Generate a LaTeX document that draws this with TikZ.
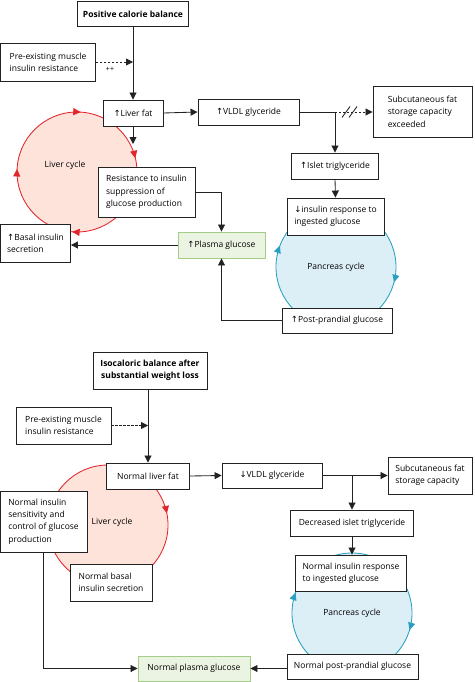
\documentclass[tikz,border=0pt]{standalone}
\usepackage{fontspec}
\setmainfont{Open Sans}
\newfontfamily\arrf{DejaVu Sans}
\newcommand\uar{{\arrf\char"2191}}
\newcommand\dar{{\arrf\char"2193}}
\usetikzlibrary{arrows.meta,decorations.markings}
\definecolor{cred}{HTML}{E2262B}
\definecolor{cpink}{HTML}{FDE3DA}
\definecolor{cteal}{HTML}{2A9FBF}
\definecolor{cblue}{HTML}{DCEEF6}
\definecolor{cgreen}{HTML}{A3CC86}
\definecolor{cgfill}{HTML}{EBF4E3}
\definecolor{cline}{HTML}{222222}
\begin{document}
\begin{tikzpicture}[x=1pt,y=-1pt,
  font=\fontsize{8.5}{12.3}\selectfont,
  bx/.style={draw=cline, fill=white, line width=0.9pt, inner sep=0pt, align=left},
  gbx/.style={bx, draw=cgreen, fill=cgfill},
  arr/.style={draw=cline, line width=0.85pt, -{Triangle[length=7pt,width=7pt]}},
  ln/.style={draw=cline, line width=0.85pt},
  dsh/.style={dash pattern=on 2.2pt off 1.8pt},
  lcyc/.style={draw=cred, fill=cpink, line width=0.85pt},
  pcyc/.style={draw=cteal, fill=cblue, line width=0.85pt},
  cyclabel/.style={inner sep=0pt}
]
\useasboundingbox (0,0) rectangle (474,682);

% ---------- cycles (top) ----------
\path[lcyc, postaction={decorate}, decoration={markings,
  mark=at position 0.010 with {\arrow[cred]{Triangle[length=7.5pt,width=7pt]}},
  mark=at position 0.213 with {\arrow[cred]{Triangle[length=7.5pt,width=7pt]}},
  mark=at position 0.513 with {\arrow[cred]{Triangle[length=7.5pt,width=7pt]}},
  mark=at position 0.758 with {\arrow[cred]{Triangle[length=7.5pt,width=7pt]}}}]
  (77,172) ++(90:60pt) arc[start angle=90,end angle=-270,radius=60pt];
\node[cyclabel] (lc1) at (65,165) {Liver cycle};

\path[pcyc, postaction={decorate}, decoration={markings,
  mark=at position 0.291 with {\arrow[cteal]{Triangle[length=7.5pt,width=7pt]}},
  mark=at position 0.808 with {\arrow[cteal]{Triangle[length=7.5pt,width=7pt]}}}]
  (336,267) ++(90:60pt) arc[start angle=90,end angle=-270,radius=60pt];
\node[cyclabel] (pc1) at (336,267) {Pancreas cycle};

% ---------- cycles (bottom) ----------
\path[lcyc, postaction={decorate}, decoration={markings,
  mark=at position 0.219 with {\arrow[cred]{Triangle[length=7.5pt,width=7pt]}}}]
  (108,525) ++(90:60pt) arc[start angle=90,end angle=-270,radius=60pt];
\node[cyclabel] (lc2) at (112,522) {Liver cycle};

\path[pcyc, postaction={decorate}, decoration={markings,
  mark=at position 0.296 with {\arrow[cteal]{Triangle[length=7.5pt,width=7pt]}},
  mark=at position 0.805 with {\arrow[cteal]{Triangle[length=7.5pt,width=7pt]}}}]
  (352,613) ++(90:60pt) arc[start angle=90,end angle=-270,radius=60pt];
\node[cyclabel] (pc2) at (352,613) {Pancreas cycle};

% ---------- top boxes ----------
\node[bx, align=center, minimum width=111pt, minimum height=24.5pt, font=\fontsize{8.5}{12.3}\selectfont\bfseries] (pcb) at (133,14) {Positive calorie balance};
\node[bx, minimum width=95pt, minimum height=38pt] (pre1) at (48,62) {Pre-existing muscle\\insulin resistance};
\node[bx, minimum width=60pt, minimum height=26pt] (lf1) at (133,113) {\uar Liver fat};
\node[bx, minimum width=101pt, minimum height=26pt] (vl1) at (248.5,112) {\uar VLDL glyceride};
\node[bx, minimum width=99pt, minimum height=51pt] (sub1) at (422.5,111.5) {Subcutaneous fat\\storage capacity\\exceeded};
\node[bx, minimum width=87pt, minimum height=26pt] (isl1) at (335,166) {\uar Islet triglyceride};
\node[bx, minimum width=97pt, minimum height=37pt] (ins1) at (335.5,216.5) {\dar insulin response to\\ingested glucose};
\node[bx, minimum width=97pt, minimum height=50pt] (res1) at (146.5,192) {Resistance to insulin\\suppression of\\glucose production};
\node[bx, minimum width=70pt, minimum height=38pt] (bas1) at (35.5,243) {\uar Basal insulin\\secretion};
\node[gbx, minimum width=87pt, minimum height=26pt] (pg1) at (221.5,245) {\uar Plasma glucose};
\node[bx, minimum width=110pt, minimum height=25pt] (pp1) at (337,320.5) {\uar Post-prandial glucose};

% ---------- top connectors ----------
\coordinate (lfend) at (133,144);
\coordinate (br1) at (335,112);
\draw[arr] (pcb.south) -- (lf1.north);
\draw[arr, dsh] (pre1.east) -- (pre1.east -| lf1.north);
\node[inner sep=0pt, font=\fontsize{7}{8}\selectfont] (pp) at (110,69) {++};
\draw[arr] (lf1.south) -- (lfend);
\draw[arr] (lf1.east) -- (vl1.west);
\draw[ln] (vl1.east) -- (br1);
\draw[arr, dsh] (br1) -- (br1 -| sub1.west);
\draw[ln] (342,117.5) -- (350,106.5) (349,117.5) -- (357,106.5);
\draw[arr] (br1) -- (isl1.north);
\draw[arr] (isl1.south) -- (ins1.north);
\draw[arr] (res1.east) -| (pg1.north);
\draw[arr] (pg1.west) -- (pg1.west -| bas1.east);
\draw[arr] (pp1.west) -| (pg1.south);

% ---------- bottom boxes ----------
\node[bx, align=center, minimum width=114pt, minimum height=37pt, font=\fontsize{8.5}{12.3}\selectfont\bfseries] (iso) at (150,370.5) {Isocaloric balance after\\substantial weight loss};
\node[bx, minimum width=95pt, minimum height=37pt] (pre2) at (63.5,425.5) {Pre-existing muscle\\insulin resistance};
\node[bx, minimum width=83pt, minimum height=26pt] (lf2) at (148,476) {Normal liver fat};
\node[bx, minimum width=100pt, minimum height=25pt] (vl2) at (272,475.5) {\dar VLDL glyceride};
\node[bx, minimum width=84pt, minimum height=37pt] (sub2) at (430,475.5) {Subcutaneous fat\\storage capacity};
\node[bx, minimum width=123pt, minimum height=26pt] (dec2) at (352,523) {Decreased islet triglyceride};
\node[bx, minimum width=111pt, minimum height=36pt] (ins2) at (351,573) {Normal insulin response\\to ingested glucose};
\node[bx, minimum width=87pt, minimum height=61pt] (nis2) at (43.5,521.5) {Normal insulin\\sensitivity and\\control of glucose\\production};
\node[bx, minimum width=82pt, minimum height=37pt] (bas2) at (111,582.5) {Normal basal\\insulin secretion};
\node[gbx, minimum width=112pt, minimum height=25pt] (pg2) at (194,668.5) {Normal plasma glucose};
\node[bx, minimum width=131pt, minimum height=25pt] (pp2) at (352.5,666.5) {Normal post-prandial glucose};

% ---------- bottom connectors ----------
\coordinate (br2) at (352,475.5);
\draw[arr] (iso.south -| lf2.north) -- (lf2.north);
\draw[arr, dsh] (pre2.east) -- (pre2.east -| lf2.north);
\draw[arr] (lf2.east) -- (vl2.west);
\draw[arr] (vl2.east) -- (sub2.west);
\draw[arr] (br2) -- (dec2.north);
\draw[arr] (dec2.south) -- (dec2.south |- ins2.north);
\draw[arr] (nis2.south) |- (pg2.west);
\draw[arr] (pp2.west |- pg2.east) -- (pg2.east);
\end{tikzpicture}
\end{document}
